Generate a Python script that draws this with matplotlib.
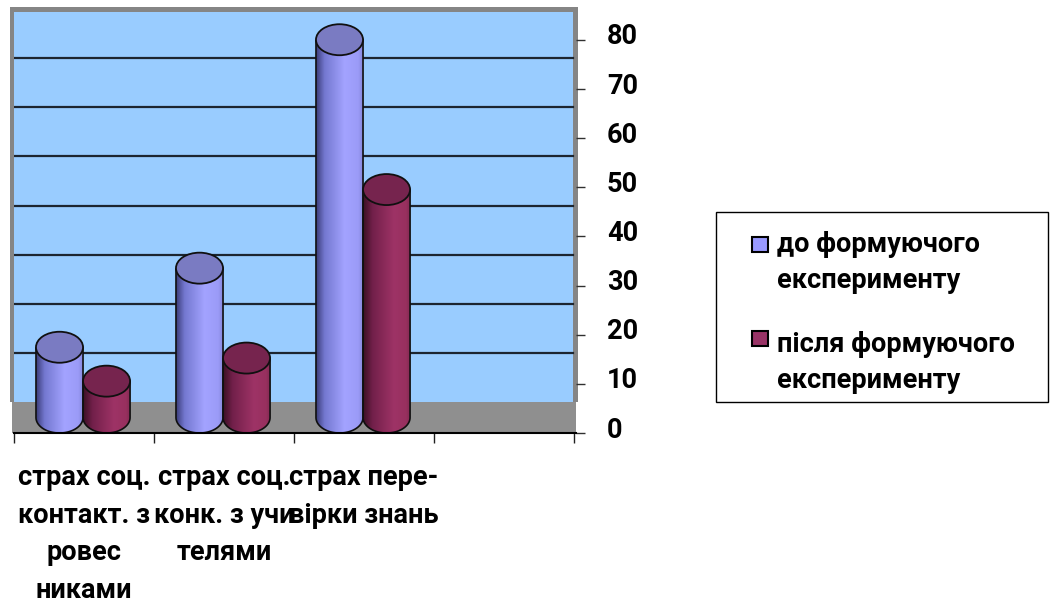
import numpy as np
import matplotlib
matplotlib.use("Agg")
import matplotlib.pyplot as plt
from matplotlib.patches import Rectangle, Ellipse, PathPatch
from matplotlib.path import Path
from matplotlib.colors import LinearSegmentedColormap
from matplotlib.transforms import ScaledTranslation

categories = ["страх соц.\nконтакт. з\nровес\nниками",
              "страх соц.\nконк. з учи\nтелями",
              "страх пере-\nвірки знань"]
series_names = ["до формуючого\nексперименту", "після формуючого\nексперименту"]
before = [14.3, 30.4, 76.9]
after = [7.4, 12.1, 46.4]
yticks = [0, 10, 20, 30, 40, 50, 60, 70, 80]

plt.rcParams['font.family'] = ['Roboto', 'DejaVu Sans']
plt.rcParams['font.weight'] = 'bold'
FS = 19.5

W, H = 1052, 604
fig = plt.figure(figsize=(W / 100, H / 100), dpi=100)
fig.patch.set_facecolor('white')

# plot area: x 14..576 px, y 7..433 px (from top)
ppu = 4.9125          # pixels per value unit
cat_px = 140          # pixels per category
ax = fig.add_axes([14 / W, (H - 433) / H, 562 / W, 426 / H])
xmax = 562 / cat_px
ymax = 426 / ppu
depth = 31 / ppu      # depth of the 3d floor in value units

# back wall with grey frame
ax.add_patch(Rectangle((-4 / cat_px, depth), xmax + 6 / cat_px, ymax - depth,
                       facecolor='#858585', edgecolor='none', zorder=0, clip_on=False))
ax.add_patch(Rectangle((0, depth), 559 / cat_px, (433 - 12) / ppu - depth,
                       facecolor='#99CCFF', edgecolor='none', zorder=0.5))
for v in yticks[1:-1]:
    ax.plot([0, 559 / cat_px], [v + depth] * 2, color='#1c2530', lw=1.6, zorder=1)
# floor
ax.add_patch(Rectangle((-2 / cat_px, 0), xmax + 2 / cat_px, depth,
                       facecolor='#8f8f8f', edgecolor='none', zorder=1, clip_on=False))

blue_cmap = LinearSegmentedColormap.from_list(
    'b', [(0, '#3a3c78'), (0.18, '#7478d0'), (0.6, '#a3a3ff'), (0.88, '#9b9bf8'), (1, '#8284d8')])
red_cmap = LinearSegmentedColormap.from_list(
    'r', [(0, '#3a0f24'), (0.2, '#72204a'), (0.65, '#9e3366'), (0.9, '#98305f'), (1, '#7e2850')])
grad = np.linspace(0, 1, 256).reshape(1, -1)


def cylinder(cx, w, value, cmap, top_color):
    x0, x1 = cx - w / 2, cx + w / 2
    yb = depth / 2
    yt = yb + value
    t = np.linspace(np.pi, 2 * np.pi, 60)
    arc = np.column_stack([cx + w / 2 * np.cos(t), yb + depth / 2 * np.sin(t)])
    verts = np.vstack([[x0, yt], arc, [x1, yt], [x0, yt]])
    body = PathPatch(Path(verts), facecolor='none', edgecolor='#101010', lw=1.2, zorder=3)
    im = ax.imshow(grad, cmap=cmap, extent=[x0, x1, 0, yt], aspect='auto',
                   zorder=2.9, interpolation='bilinear')
    ax.add_patch(body)
    im.set_clip_path(body)
    ax.add_patch(Ellipse((cx, yt), w, depth, facecolor=top_color,
                         edgecolor='#101010', lw=1.3, zorder=3.1))


bar_w = 0.336
for i in range(len(categories)):
    cylinder(i + 0.661, bar_w, after[i], red_cmap, '#76244e')
    cylinder(i + 0.325, bar_w, before[i], blue_cmap, '#7a7bc2')

ax.set_xlim(0, xmax)
ax.set_ylim(0, ymax)

for s in ['left', 'right', 'top']:
    ax.spines[s].set_visible(False)
ax.spines['bottom'].set_color('black')
ax.spines['bottom'].set_linewidth(1.5)
ax.spines['bottom'].set_zorder(5)

ax.set_xticks(range(5))
ax.set_xticklabels([])
ax.set_xticks([i + 0.5 for i in range(len(categories))], labels=categories, minor=True)
ax.tick_params(axis='x', which='major', length=7.2, width=1, color='#202020', direction='out')
ax.tick_params(axis='x', which='minor', length=0, pad=22.5, labelsize=FS)
for lab in ax.get_xticklabels(minor=True):
    lab.set_linespacing(1.5)
    lab.set_fontweight('bold')

ax.yaxis.tick_right()
ax.set_yticks(yticks)
ax.tick_params(axis='y', length=6.5, width=1, color='#303030', pad=15.8, labelsize=FS)
shift = ScaledTranslation(0, 6 / 100, fig.dpi_scale_trans)
for tick in ax.yaxis.get_major_ticks():
    lab = tick.label2
    lab.set_fontweight('bold')
    lab.set_horizontalalignment('left')
    lab.set_transform(lab.get_transform() + shift)

# legend box
fig.add_artist(Rectangle((716 / W, (H - 402) / H), 332 / W, 190 / H, transform=fig.transFigure,
                         facecolor='white', edgecolor='black', lw=1))
colors = ['#9999ff', '#993366']
mark_top = [237, 331]
last_base = [288, 388]
for name, c, mt, lb in zip(series_names, colors, mark_top, last_base):
    fig.add_artist(Rectangle((752 / W, (H - mt - 15) / H), 16 / W, 15 / H, transform=fig.transFigure,
                             facecolor=c, edgecolor='black', lw=1.5))
    fig.text(777 / W, (H - lb) / H, name, fontsize=FS, fontweight='bold',
             va='baseline', ha='left', linespacing=1.42)

fig.savefig('out.png', dpi=100, facecolor='white')
